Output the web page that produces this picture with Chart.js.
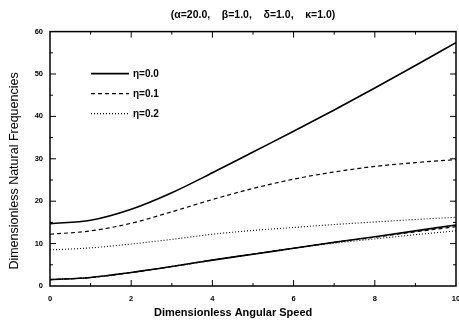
<!DOCTYPE html>
<html>
<head>
<meta charset="utf-8">
<script src="https://cdn.jsdelivr.net/npm/chart.js@4/dist/chart.umd.min.js"></script>
<style>
  html, body { margin: 0; padding: 0; background: #fff; }
  #wrap { width: 459px; height: 326px; }
</style>
</head>
<body>
<div id="wrap"><canvas id="myChart"></canvas></div>
<script>
// angular speed samples (x axis)
const speeds = [0, 1, 2, 3, 4, 5, 6, 7, 8, 9, 10];

// upper branch for each eta
const upperEta0 = [14.7, 15.5, 18.1, 22.0, 26.7, 31.6, 36.5, 41.5, 46.7, 52.0, 57.4];
const upperEta1 = [12.2, 13.0, 14.8, 17.5, 20.4, 23.0, 25.2, 26.9, 28.2, 29.1, 29.8];
const upperEta2 = [8.5, 9.0, 9.9, 11.0, 12.2, 13.1, 13.8, 14.5, 15.1, 15.7, 16.2];

// lower branch for each eta
const lowerEta0 = [1.5, 2.0, 3.2, 4.6, 6.1, 7.5, 8.9, 10.3, 11.6, 13.0, 14.4];
const lowerEta1 = [1.5, 2.0, 3.2, 4.6, 6.1, 7.5, 8.9, 10.3, 11.5, 12.8, 14.0];
const lowerEta2 = [1.5, 2.0, 3.2, 4.6, 6.1, 7.5, 8.9, 10.1, 11.1, 12.1, 13.0];

const legendLabels = ['\u03b7=0.0', '\u03b7=0.1', '\u03b7=0.2'];
const titleText = '(\u03b1=20.0,    \u03b2=1.0,    \u03b4=1.0,    \u03ba=1.0)';

const dashes = [[], [4, 3], [1, 2]];
const widths = [1.6, 1.2, 1.1];

function toPoints(ys) {
  return ys.map((y, i) => ({ x: speeds[i], y: y }));
}

function makeSet(ys, k) {
  return {
    data: toPoints(ys),
    borderColor: '#000',
    borderWidth: widths[k],
    borderDash: dashes[k],
    pointRadius: 0,
    fill: false,
    cubicInterpolationMode: 'monotone',
  };
}

// box + inward ticks + legend inside plot
const framePlugin = {
  id: 'frame',
  afterDraw(chart) {
    const ctx = chart.ctx;
    const a = chart.chartArea;
    const xs = chart.scales.x;
    const ys = chart.scales.y;
    ctx.save();
    ctx.strokeStyle = '#000';
    ctx.lineWidth = 1.5;
    ctx.strokeRect(a.left, a.top, a.right - a.left, a.bottom - a.top);

    ctx.lineWidth = 1;
    ctx.beginPath();
    for (let v = 1; v < 10; v++) {
      const px = xs.getPixelForValue(v);
      const len = v % 2 === 0 ? 6 : 3;
      ctx.moveTo(px, a.bottom);
      ctx.lineTo(px, a.bottom - len);
      ctx.moveTo(px, a.top);
      ctx.lineTo(px, a.top + len);
    }
    for (let v = 5; v < 60; v += 5) {
      const py = ys.getPixelForValue(v);
      const len = v % 10 === 0 ? 6 : 3;
      ctx.moveTo(a.left, py);
      ctx.lineTo(a.left + len, py);
      ctx.moveTo(a.right, py);
      ctx.lineTo(a.right - len, py);
    }
    ctx.stroke();

    // legend
    ctx.font = 'bold 10px "Liberation Sans", Arial, sans-serif';
    ctx.fillStyle = '#000';
    ctx.textBaseline = 'middle';
    legendLabels.forEach((lab, k) => {
      const y = a.top + 42 + k * 20;
      ctx.beginPath();
      ctx.setLineDash(dashes[k]);
      ctx.lineWidth = widths[k];
      ctx.moveTo(a.left + 41, y);
      ctx.lineTo(a.left + 79, y);
      ctx.stroke();
      ctx.setLineDash([]);
      ctx.fillText(lab, a.left + 83, y + 1);
    });
    ctx.restore();
  },
};

const fam = '"Liberation Sans", Arial, sans-serif';
const tickFont = { family: fam, size: 7.5, weight: 'bold' };

new Chart(document.getElementById('myChart'), {
  type: 'line',
  data: {
    datasets: [
      makeSet(upperEta0, 0),
      makeSet(upperEta1, 1),
      makeSet(upperEta2, 2),
      makeSet(lowerEta0, 0),
      makeSet(lowerEta1, 1),
      makeSet(lowerEta2, 2),
    ],
  },
  options: {
    responsive: true,
    maintainAspectRatio: false,
    animation: false,
    layout: { padding: { left: 0, right: 3, top: 0, bottom: 0 } },
    plugins: {
      legend: { display: false },
      tooltip: { enabled: false },
      title: {
        display: true,
        fullSize: false,
        text: titleText,
        color: '#000',
        font: { family: fam, size: 10.5, weight: 'bold' },
        padding: { top: 9, bottom: 10 },
      },
    },
    scales: {
      x: {
        type: 'linear',
        min: 0,
        max: 10,
        ticks: { stepSize: 2, color: '#000', font: tickFont, padding: 8, maxRotation: 0 },
        grid: { display: false, drawTicks: false },
        border: { display: false },
        title: {
          display: true,
          // trailing spaces nudge the label left like the original
          text: 'Dimensionless Angular Speed             ',
          color: '#000',
          font: { family: fam, size: 11, weight: 'bold' },
          padding: { top: 6, bottom: 6 },
        },
        afterFit(scale) {
          scale.height = 40;
          // let the last tick label run off the edge as in the original
          scale.paddingRight = 0;
          scale.paddingLeft = 0;
        },
      },
      y: {
        type: 'linear',
        min: 0,
        max: 60,
        ticks: { stepSize: 10, color: '#000', font: tickFont, padding: 7 },
        grid: { display: false, drawTicks: false },
        border: { display: false },
        title: {
          display: true,
          text: 'Dimensionless Natural Frequencies       ',
          color: '#000',
          font: { family: fam, size: 12.5 },
          padding: { top: 7, bottom: 7 },
        },
        afterFit(scale) { scale.width = 50; },
      },
    },
  },
  plugins: [framePlugin],
});
</script>
</body>
</html>
